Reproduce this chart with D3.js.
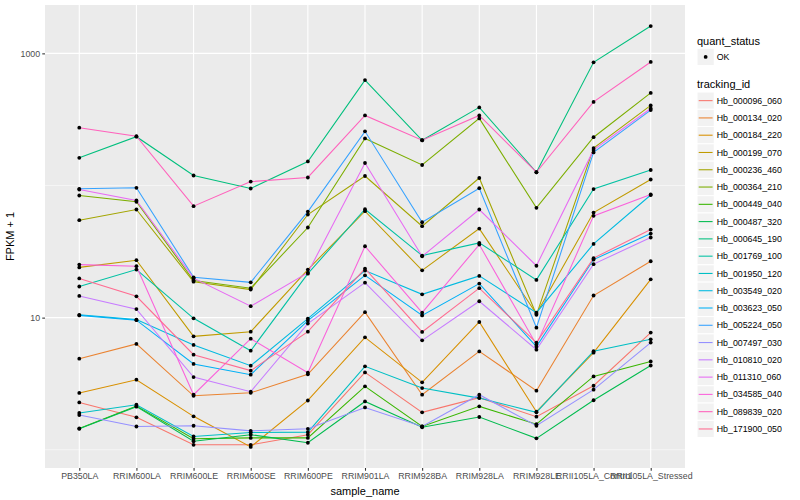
<!DOCTYPE html>
<html>
<head>
<meta charset="utf-8">
<script src="https://cdn.jsdelivr.net/npm/d3@7"></script>
<style>
  body { margin: 0; background: #fff; }
  text { font-family: "Liberation Sans", Arial, Helvetica, sans-serif; }
</style>
</head>
<body>
<div id="chart"></div>
<script>
const samples = ["PB350LA", "RRIM600LA", "RRIM600LE", "RRIM600SE", "RRIM600PE", "RRIM901LA",
  "RRIM928BA", "RRIM928LA", "RRIM928LE", "RRII105LA_Control", "RRII105LA_Stressed"];

const trackingIds = ["Hb_000096_060", "Hb_000134_020", "Hb_000184_220", "Hb_000199_070",
  "Hb_000236_460", "Hb_000364_210", "Hb_000449_040", "Hb_000487_320", "Hb_000645_190",
  "Hb_001769_100", "Hb_001950_120", "Hb_003549_020", "Hb_003623_050", "Hb_005224_050",
  "Hb_007497_030", "Hb_010810_020", "Hb_011310_060", "Hb_034585_040", "Hb_089839_020",
  "Hb_171900_050"];

const quantStatus = ["OK"];
const yTicks = [10, 1000];
const yMinorTicks = [1, 100];

// FPKM + 1, one value per sample (same order as samples)
const hb_000096_060 = [2.28, 1.76, 1.09, 1.09, 1.30, 3.85, 1.92, 2.48, 1.78, 3.05, 7.70];
const hb_000134_020 = [4.89, 6.32, 2.56, 2.70, 3.72, 11.0, 2.61, 5.55, 2.80, 14.7, 26.7];
const hb_000184_220 = [2.69, 3.39, 1.79, 1.05, 2.36, 7.09, 3.24, 9.27, 1.94, 5.43, 19.5];
const hb_000199_070 = [24.0, 27.2, 7.22, 7.83, 23.1, 63.9, 22.8, 47.2, 10.7, 62.4, 111];
const hb_000236_460 = [54.6, 65.8, 18.7, 16.3, 60.3, 118, 49.2, 114, 10.5, 192, 404];
const hb_000364_210 = [84.0, 75.3, 19.1, 16.7, 48.1, 227, 143, 322, 67.8, 232, 502];
const hb_000449_040 = [1.45, 2.14, 1.21, 1.23, 1.23, 3.02, 1.50, 2.13, 1.56, 3.59, 4.66];
const hb_000487_320 = [1.44, 2.12, 1.16, 1.30, 1.13, 2.32, 1.48, 1.77, 1.22, 2.37, 4.34];
const hb_000645_190 = [162, 234, 119, 94.9, 152, 628, 220, 390, 126, 855, 1610];
const hb_001769_100 = [17.2, 23.1, 9.88, 5.62, 21.5, 66.1, 29.5, 36.8, 19.3, 94.0, 131];
const hb_001950_120 = [1.90, 2.19, 1.26, 1.35, 1.36, 4.28, 2.93, 2.46, 1.92, 5.57, 6.85];
const hb_003549_020 = [10.5, 9.66, 6.21, 4.33, 9.83, 22.7, 15.0, 20.7, 10.9, 36.1, 84.7];
const hb_003623_050 = [10.4, 9.57, 4.46, 3.70, 9.49, 20.9, 10.4, 18.1, 6.03, 27.5, 43.3];
const hb_005224_050 = [94.4, 96.1, 20.2, 18.5, 63.5, 257, 52.7, 95.4, 8.40, 178, 372];
const hb_007497_030 = [1.83, 1.50, 1.52, 1.39, 1.44, 2.09, 1.50, 2.61, 1.52, 2.85, 6.47];
const hb_010810_020 = [14.6, 11.6, 3.55, 2.75, 9.01, 18.4, 6.73, 13.3, 5.72, 25.4, 40.4];
const hb_011310_060 = [93.3, 77.0, 19.9, 12.2, 21.9, 148, 29.1, 65.8, 24.7, 186, 383];
const hb_034585_040 = [25.2, 24.5, 2.61, 6.93, 3.83, 34.7, 10.9, 35.7, 6.24, 58.9, 85.5];
const hb_089839_020 = [274, 236, 69.7, 107, 115, 339, 220, 339, 126, 429, 861];
const hb_171900_050 = [19.8, 14.5, 5.24, 3.97, 7.83, 23.5, 7.79, 16.7, 6.47, 28.2, 46.4];

const seriesValues = [hb_000096_060, hb_000134_020, hb_000184_220, hb_000199_070,
  hb_000236_460, hb_000364_210, hb_000449_040, hb_000487_320, hb_000645_190,
  hb_001769_100, hb_001950_120, hb_003549_020, hb_003623_050, hb_005224_050,
  hb_007497_030, hb_010810_020, hb_011310_060, hb_034585_040, hb_089839_020,
  hb_171900_050];

// ggplot default hue palette for 20 levels
const palette = ["#F8766D", "#EA8331", "#D89000", "#C09B00", "#A3A500", "#7CAE00", "#39B600",
  "#00BB4E", "#00BF7D", "#00C1A3", "#00BFC4", "#00BAE0", "#00B0F6", "#35A2FF", "#9590FF",
  "#C77CFF", "#E76BF3", "#FA62DB", "#FF62BC", "#FF6C91"];

const width = 800;
const height = 500;
const panel = { left: 45, right: 685, top: 5, bottom: 468 };

const series = trackingIds.map((id, i) => ({
  id: id,
  color: palette[i],
  values: seriesValues[i].map((v, j) => ({ sample: samples[j], value: v }))
}));

const svg = d3.select("#chart")
  .append("svg")
  .attr("width", width)
  .attr("height", height);

const x = d3.scalePoint()
  .domain(samples)
  .range([panel.left, panel.right])
  .padding(0.6);

// log10 scale, padded by 5% of the range like ggplot
const logExtent = d3.extent(seriesValues.flat()).map(Math.log10);
const pad = (logExtent[1] - logExtent[0]) * 0.05;
const y = d3.scaleLog()
  .domain([Math.pow(10, logExtent[0] - pad), Math.pow(10, logExtent[1] + pad)])
  .range([panel.bottom, panel.top]);

// panel background and grid
svg.append("rect")
  .attr("x", panel.left)
  .attr("y", panel.top)
  .attr("width", panel.right - panel.left)
  .attr("height", panel.bottom - panel.top)
  .attr("fill", "#EBEBEB");

const grid = svg.append("g");

grid.selectAll(".minor")
  .data(yMinorTicks.filter(d => d >= y.domain()[0] && d <= y.domain()[1]))
  .enter()
  .append("line")
  .attr("x1", panel.left)
  .attr("x2", panel.right)
  .attr("y1", d => y(d))
  .attr("y2", d => y(d))
  .attr("stroke", "#fff")
  .attr("stroke-width", 0.53);

grid.selectAll(".major")
  .data(yTicks)
  .enter()
  .append("line")
  .attr("x1", panel.left)
  .attr("x2", panel.right)
  .attr("y1", d => y(d))
  .attr("y2", d => y(d))
  .attr("stroke", "#fff")
  .attr("stroke-width", 1.07);

grid.selectAll(".vert")
  .data(samples)
  .enter()
  .append("line")
  .attr("x1", d => x(d))
  .attr("x2", d => x(d))
  .attr("y1", panel.top)
  .attr("y2", panel.bottom)
  .attr("stroke", "#fff")
  .attr("stroke-width", 1.07);

// lines, then all points on top
const line = d3.line()
  .x(d => x(d.sample))
  .y(d => y(d.value));

svg.append("g")
  .selectAll("path")
  .data(series)
  .enter()
  .append("path")
  .attr("d", d => line(d.values))
  .attr("fill", "none")
  .attr("stroke", d => d.color)
  .attr("stroke-width", 1.07);

svg.append("g")
  .selectAll("circle")
  .data(series.flatMap(d => d.values))
  .enter()
  .append("circle")
  .attr("cx", d => x(d.sample))
  .attr("cy", d => y(d.value))
  .attr("r", 1.9)
  .attr("fill", "#000");

// axes
const yAxis = svg.append("g")
  .attr("transform", `translate(${panel.left},0)`)
  .call(d3.axisLeft(y).tickValues(yTicks).tickFormat(d3.format("d")).tickSize(2.74).tickPadding(2.2));

const xAxis = svg.append("g")
  .attr("transform", `translate(0,${panel.bottom})`)
  .call(d3.axisBottom(x).tickSize(2.74).tickPadding(2.4));

[yAxis, xAxis].forEach(ax => {
  ax.select(".domain").remove();
  ax.selectAll(".tick line").attr("stroke", "#333333").attr("stroke-width", 1.07);
  ax.selectAll(".tick text")
    .attr("fill", "#4D4D4D")
    .style("font-size", "8.8px")
    .style("font-family", "\"Liberation Sans\", Arial, sans-serif");
});

svg.append("text")
  .attr("x", (panel.left + panel.right) / 2)
  .attr("y", 495)
  .attr("text-anchor", "middle")
  .style("font-size", "11px")
  .text("sample_name");

svg.append("text")
  .attr("transform", `translate(14,${(panel.top + panel.bottom) / 2}) rotate(-90)`)
  .attr("text-anchor", "middle")
  .style("font-size", "11px")
  .text("FPKM + 1");

// legends
const keySize = 17.28;
const legendX = 697;

svg.append("text")
  .attr("x", legendX)
  .attr("y", 44.5)
  .style("font-size", "11px")
  .text("quant_status");

const shapeKey = svg.append("g")
  .selectAll("g")
  .data(quantStatus)
  .enter()
  .append("g")
  .attr("transform", (d, i) => `translate(${legendX},${48.3 + i * keySize})`);

shapeKey.append("rect")
  .attr("width", keySize)
  .attr("height", keySize)
  .attr("fill", "#F2F2F2")
  .attr("stroke", "#fff")
  .attr("stroke-width", 1);

shapeKey.append("circle")
  .attr("cx", keySize / 2)
  .attr("cy", keySize / 2)
  .attr("r", 1.9)
  .attr("fill", "#000");

shapeKey.append("text")
  .attr("x", keySize + 2.5)
  .attr("y", keySize / 2)
  .attr("dy", "0.35em")
  .style("font-size", "8.8px")
  .text(d => d);

svg.append("text")
  .attr("x", legendX)
  .attr("y", 88)
  .style("font-size", "11px")
  .text("tracking_id");

const colorKey = svg.append("g")
  .selectAll("g")
  .data(series)
  .enter()
  .append("g")
  .attr("transform", (d, i) => `translate(${legendX},${92 + i * keySize})`);

colorKey.append("rect")
  .attr("width", keySize)
  .attr("height", keySize)
  .attr("fill", "#F2F2F2")
  .attr("stroke", "#fff")
  .attr("stroke-width", 1);

colorKey.append("line")
  .attr("x1", 1.7)
  .attr("x2", keySize - 1.7)
  .attr("y1", keySize / 2)
  .attr("y2", keySize / 2)
  .attr("stroke", d => d.color)
  .attr("stroke-width", 1.07);

colorKey.append("text")
  .attr("x", keySize + 2.5)
  .attr("y", keySize / 2)
  .attr("dy", "0.35em")
  .style("font-size", "8.8px")
  .text(d => d.id);
</script>
</body>
</html>
